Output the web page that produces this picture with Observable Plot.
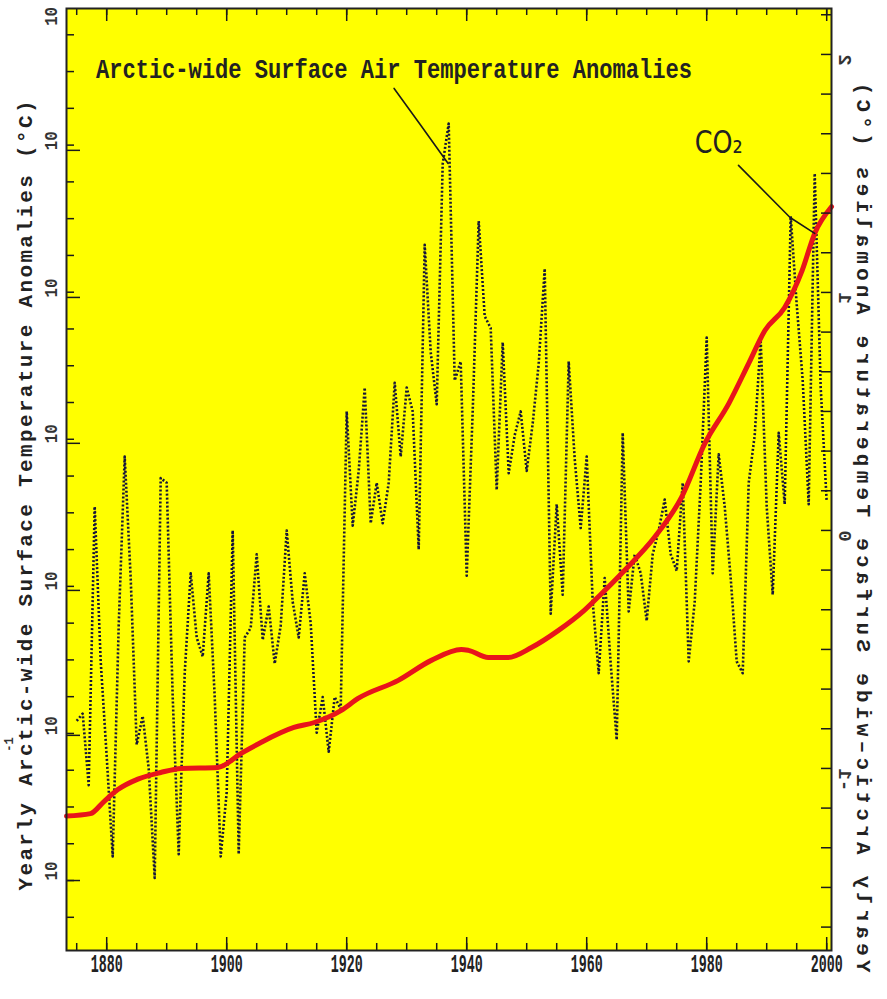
<!DOCTYPE html>
<html><head><meta charset="utf-8">
<script src="https://cdn.jsdelivr.net/npm/d3@7"></script>
<script src="https://cdn.jsdelivr.net/npm/@observablehq/plot@0.6"></script>
<style>html,body{margin:0;padding:0;background:#fff;} #chart svg{display:block;}</style>
</head><body><div id="chart"></div>
<script>
// ---- data ----
const years = d3.range(1875, 2001);
const tempAnomaly = [
  // 1875-1879
  -0.80, -0.77, -1.07, 0.10, -0.55,
  // 1880s
  -0.95, -1.37, -0.40, 0.31, -0.20, -0.90, -0.78, -1.00, -1.46, 0.22,
  // 1890s
  0.20, -0.70, -1.36, -0.60, -0.18, -0.45, -0.53, -0.18, -0.70, -1.37,
  // 1900s
  -1.10, 0.00, -1.36, -0.45, -0.41, -0.10, -0.46, -0.32, -0.56, -0.40,
  // 1910s
  0.00, -0.30, -0.45, -0.18, -0.39, -0.85, -0.70, -0.93, -0.70, -0.75,
  // 1920s
  0.50, 0.02, 0.25, 0.60, 0.03, 0.20, 0.03, 0.20, 0.62, 0.31,
  // 1930s
  0.60, 0.50, -0.08, 1.20, 0.75, 0.53, 1.54, 1.71, 0.63, 0.71,
  // 1940s
  -0.19, 0.50, 1.30, 0.90, 0.85, 0.17, 0.79, 0.24, 0.40, 0.50,
  // 1950s
  0.25, 0.45, 0.70, 1.10, -0.35, 0.11, -0.27, 0.71, 0.30, 0.01,
  // 1960s
  0.31, -0.30, -0.60, -0.20, -0.56, -0.88, 0.41, -0.34, -0.10, -0.18,
  // 1970s
  -0.38, -0.10, 0.00, 0.13, -0.10, -0.17, 0.20, -0.55, -0.30, 0.20,
  // 1980s
  0.81, -0.18, 0.32, 0.10, -0.20, -0.55, -0.60, 0.20, 0.40, 0.80,
  // 1990s
  0.10, -0.27, 0.41, 0.11, 1.32, 0.95, 0.63, 0.11, 1.50, 0.60,
  // 2000
  0.12
];
// CO2 curve, expressed on the plotted (right-axis) scale
const co2Years = [1873.3, 1877.3, 1879.5, 1881.8, 1885.2, 1889.0, 1892.4, 1898.5, 1902.4, 1905.7,
  1911.2, 1914.6, 1919.1, 1921.9, 1928.6, 1934.1, 1939.1, 1940.3, 1943.6, 1946.9,
  1950.8, 1955.3, 1959.6, 1962.5, 1966.3, 1971.3, 1975.8, 1979.7, 1983.7, 1987.0,
  1989.7, 1993.0, 1995.9, 1998.0, 2000.8];
const co2Scaled = [-1.20, -1.19, -1.14, -1.09, -1.045, -1.017, -1.000, -0.996, -0.937, -0.891,
  -0.828, -0.807, -0.756, -0.706, -0.630, -0.546, -0.500, -0.504, -0.534, -0.534,
  -0.492, -0.420, -0.336, -0.265, -0.168, -0.029, 0.139, 0.366, 0.534, 0.702,
  0.840, 0.937, 1.092, 1.248, 1.36];

// axes
const xDomain = [1873.3, 2000.8];
const yDomain = [-1.765, 2.193];
const xTickYears = [1880, 1900, 1920, 1940, 1960, 1980, 2000];
const xMinorYears = d3.range(1875, 2001, 5);
const leftMajorTicks = [1.597, 0.979, 0.366, -0.252, -0.861, -1.471];
const leftLabelPositions = [2.12, 1.597, 0.979, 0.366, -0.252, -0.861, -1.471];
const leftTickLabels = ["10", "10", "10", "10", "10", "10", "10"];
const leftExponentPos = [-0.93];
const leftExponentLabel = ["-1"];
const rightTickValues = [2, 1, 0, -1];
const rightTickLabels = ["2", "1", "0", "-1"];
const leftTitle = "Yearly Arctic-wide Surface Temperature Anomalies (\u00B0C)";
const rightTitle = "Yearly Arctic\u2013wide Surface Temperature Anomalies (\u00B0C)";

// annotations
const annotationLabels = ["Arctic-wide Surface Air Temperature Anomalies", "CO\u2082"];
const annotationYears = [1878.2, 1982.0];
const annotationValues = [1.94, 1.63];
const tempLeaderYears = [1927.9, 1932.4, 1936.9];
const tempLeaderValues = [1.857, 1.70, 1.542];
const co2LeaderYears = [1985.3, 1993.9, 1998.0];
const co2LeaderValues = [1.534, 1.315, 1.248];

// ---- build ----
const W = 887, H = 999;
const mL = 66, mR = 56, mT = 8, mB = 49;
const frameW = W - mL - mR, frameH = H - mT - mB;
const frameMidY = mT + frameH / 2;

const temps = years.map((yr, i) => ({year: yr, value: tempAnomaly[i]}));
const co2 = co2Years.map((yr, i) => ({year: yr, value: co2Scaled[i]}));
const leftStep = (leftMajorTicks[0] - leftMajorTicks[1]) / 4;
const leftMinor = d3.range(-12, 30).map(k => leftMajorTicks[5] + k * leftStep)
  .filter(v => v > yDomain[0] && v < yDomain[1]);
const rightMinor = d3.range(-10, 14).map(k => k / 6).filter(v => v > yDomain[0] && v < yDomain[1]);
const leftLabels = leftLabelPositions.map((v, i) => ({v, t: leftTickLabels[i]}));
const rightLabels = rightTickValues.map((v, i) => ({v, t: rightTickLabels[i]}));
const annos = annotationLabels.map((t, i) => ({t, year: annotationYears[i], value: annotationValues[i]}));
const tempLeader = tempLeaderYears.map((yr, i) => ({year: yr, value: tempLeaderValues[i]}));
const co2Leader = co2LeaderYears.map((yr, i) => ({year: yr, value: co2LeaderValues[i]}));

const ink = "#1a1a1a";
const mono = "Liberation Mono, DejaVu Sans Mono, monospace";

const chart = Plot.plot({
  width: W, height: H,
  marginLeft: mL, marginRight: mR, marginTop: mT, marginBottom: mB,
  x: {domain: xDomain, axis: null},
  y: {domain: yDomain, axis: null},
  style: {background: "#ffffff", fontFamily: mono, overflow: "visible"},
  marks: [
    Plot.frame({fill: "#ffff00", stroke: "none"}),
    // temperature (dotted)
    Plot.line(temps, {x: "year", y: "value", stroke: "#16163a", strokeWidth: 2.6,
      strokeDasharray: "2,2", strokeLinecap: "butt"}),
    // CO2 curve
    Plot.line(co2, {x: "year", y: "value", stroke: "#e8151b", strokeWidth: 5, curve: "monotone-x"}),
    // leader lines
    Plot.line(tempLeader, {x: "year", y: "value", stroke: ink, strokeWidth: 1.6}),
    Plot.line(co2Leader, {x: "year", y: "value", stroke: ink, strokeWidth: 1.6}),
    // bottom & top ticks
    Plot.ruleX(xMinorYears, {x: d => d, insetTop: frameH - 7, stroke: ink, strokeWidth: 1.5}),
    Plot.ruleX(xTickYears, {x: d => d, insetTop: frameH - 13, stroke: ink, strokeWidth: 1.5}),
    Plot.ruleX(xMinorYears, {x: d => d, insetBottom: frameH - 7, stroke: ink, strokeWidth: 1.5}),
    Plot.ruleX(xTickYears, {x: d => d, insetBottom: frameH - 13, stroke: ink, strokeWidth: 1.5}),
    // left ticks
    Plot.ruleY(leftMinor, {y: d => d, insetRight: frameW - 8, stroke: ink, strokeWidth: 1.5}),
    Plot.ruleY(leftMajorTicks, {y: d => d, insetRight: frameW - 14, stroke: ink, strokeWidth: 1.5}),
    // right ticks
    Plot.ruleY(rightMinor, {y: d => d, insetLeft: frameW - 10, stroke: ink, strokeWidth: 1.5}),
    // x labels
    Plot.text(xTickYears, {x: d => d, frameAnchor: "bottom", dy: 21,
      text: d => String(d), fontSize: 26, fontWeight: "bold", fill: "#222"}),
    // left labels
    Plot.text(leftLabels, {y: "v", text: "t", frameAnchor: "left", dx: -16, rotate: -90,
      fontSize: 19, fontWeight: "bold", fill: "#333"}),
    Plot.text(leftExponentPos, {y: d => d, text: (d, i) => leftExponentLabel[i], frameAnchor: "left", dx: -57,
      rotate: -90, fontSize: 12, fontWeight: "bold", fill: "#333"}),
    // right labels (rotated, mirrored afterwards)
    Plot.text(rightLabels, {y: "v", text: "t", frameAnchor: "right", dx: 14, rotate: -90,
      fontSize: 19, fontWeight: "bold", fill: "#333"}),
    // axis titles (start-anchored at their lower end, reading upward)
    Plot.text([leftTitle], {frameAnchor: "left", dx: -41, dy: 890 - frameMidY, rotate: -90, fontSize: 21,
      textAnchor: "start", fontWeight: "bold", fill: "#222"}),
    Plot.text([rightTitle], {frameAnchor: "right", dx: 32, dy: 972 - frameMidY, rotate: -90, fontSize: 21,
      textAnchor: "start", fontWeight: "bold", fill: "#222"}),
    // annotation texts
    Plot.text(annos.slice(0, 1), {x: "year", y: "value", text: "t", textAnchor: "start",
      fontSize: 28, fontWeight: "bold", fill: "#222"}),
    Plot.text(annos.slice(1), {x: "year", y: "value", text: "t", textAnchor: "middle",
      fontSize: 32, fontFamily: "DejaVu Sans", fill: "#222"}),
    Plot.frame({stroke: "#222", strokeWidth: 2})
  ]
});

document.getElementById("chart").appendChild(chart);

// typographic fine-tuning: condensed vector-font look, mirrored right-side text
const texts = Array.from(chart.querySelectorAll("text"));
function fitBy(pred, len, adjust, extraTransform) {
  texts.filter(t => pred(t.textContent, t)).forEach(t => {
    const target = t.querySelector("tspan") || t;
    target.setAttribute("textLength", len);
    target.setAttribute("lengthAdjust", adjust || "spacingAndGlyphs");
    if (extraTransform) {
      const tr = t.getAttribute("transform") || "";
      t.setAttribute("transform", tr + " " + extraTransform);
    }
  });
}
const xLabelSet = new Set(xTickYears.map(String));
fitBy(s => xLabelSet.has(s), 32);
fitBy(s => s === "10", 19);
fitBy(s => s === leftTitle, 790, "spacing");
fitBy(s => s === rightTitle, 890, "spacing", "scale(1,-1)");
fitBy(s => s === annotationLabels[0], 596);
fitBy(s => s === annotationLabels[1], 48);
// right tick labels: the ones anchored at the right frame edge
const rightLabelSet = new Set(rightTickLabels);
texts.filter(t => rightLabelSet.has(t.textContent) &&
  parseFloat(((t.getAttribute("transform") || "").match(/translate\(([-\d.]+)/) || [0, 0])[1]) > W / 2)
  .forEach(t => t.setAttribute("transform", t.getAttribute("transform") + " scale(1,-1)"));
</script>
</body></html>
